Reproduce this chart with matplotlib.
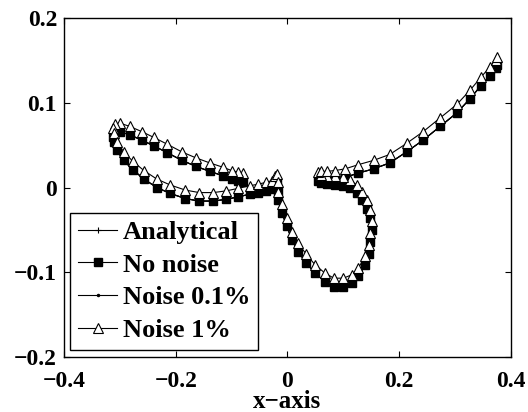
import matplotlib
matplotlib.use("Agg")
import matplotlib.pyplot as plt

# trayectoria: rama superior izquierda -> lazo izq. -> lazo der. -> rama derecha
x_exacta = [-0.080, -0.088, -0.100, -0.116, -0.139, -0.164, -0.189, -0.215, -0.239, -0.261, -0.282, -0.300, -0.309,
            -0.312, -0.311, -0.306, -0.293, -0.277, -0.257, -0.234, -0.210, -0.183, -0.158, -0.133, -0.110, -0.088,
            -0.068, -0.052, -0.039, -0.028, -0.022, -0.019,
            -0.017, -0.017, -0.010, -0.001, 0.008, 0.019, 0.034, 0.049, 0.067, 0.083, 0.100, 0.115, 0.127, 0.139,
            0.145, 0.148, 0.151, 0.148, 0.142, 0.133, 0.124, 0.112, 0.100, 0.085, 0.071, 0.060, 0.055,
            0.060, 0.070, 0.085, 0.103, 0.127, 0.154, 0.183, 0.213, 0.243, 0.273, 0.303, 0.327, 0.346, 0.362,
            0.373, 0.375]
y_exacta = [0.007, 0.008, 0.010, 0.014, 0.019, 0.025, 0.032, 0.041, 0.049, 0.056, 0.062, 0.066, 0.065,
            0.060, 0.054, 0.044, 0.032, 0.021, 0.010, 0.000, -0.007, -0.013, -0.016, -0.016, -0.014, -0.011,
            -0.008, -0.006, -0.004, -0.002, 0.003, 0.006,
            -0.004, -0.015, -0.030, -0.046, -0.062, -0.076, -0.089, -0.101, -0.111, -0.117, -0.117, -0.113, -0.105,
            -0.091, -0.078, -0.064, -0.050, -0.036, -0.025, -0.015, -0.007, -0.001, 0.002, 0.003, 0.004, 0.005, 0.008,
            0.009, 0.009, 0.010, 0.012, 0.017, 0.022, 0.029, 0.042, 0.056, 0.072, 0.088, 0.105, 0.120, 0.132,
            0.141, 0.144]

# sin ruido y ruido 0.1% caen encima de la solucion analitica
x_sin_ruido = x_exacta
y_sin_ruido = y_exacta
x_ruido01 = x_exacta
y_ruido01 = y_exacta

# ruido 1%
x_ruido1 = x_exacta
y_ruido1 = [0.017, 0.018, 0.020, 0.024, 0.029, 0.035, 0.042, 0.051, 0.059, 0.066, 0.072, 0.076, 0.075,
            0.070, 0.064, 0.054, 0.042, 0.031, 0.020, 0.010, 0.003, -0.003, -0.006, -0.006, -0.004, -0.001,
            0.002, 0.004, 0.006, 0.008, 0.013, 0.016,
            0.006, -0.005, -0.020, -0.036, -0.052, -0.066, -0.079, -0.091, -0.101, -0.107, -0.107, -0.103, -0.095,
            -0.081, -0.068, -0.054, -0.040, -0.026, -0.015, -0.005, 0.003, 0.009, 0.012, 0.013, 0.014, 0.015, 0.018,
            0.019, 0.019, 0.020, 0.022, 0.027, 0.032, 0.039, 0.052, 0.066, 0.082, 0.098, 0.115, 0.130, 0.142,
            0.151, 0.154]

etiquetas = ["Analytical", "No noise", "Noise 0.1%", "Noise 1%"]
xticks = [-0.4, -0.2, 0, 0.2, 0.4]
yticks = [-0.2, -0.1, 0, 0.1, 0.2]

plt.rcParams["font.family"] = ["Liberation Serif", "DejaVu Serif"]
plt.rcParams["font.weight"] = "bold"

fig = plt.figure(figsize=(5.28, 4.12), dpi=100)
ax = fig.add_axes([0.1212, 0.1335, 0.8466, 0.8228])

ax.plot(x_exacta, y_exacta, color="black", linewidth=0.8, marker="+", markersize=5, markeredgewidth=0.8,
        label=etiquetas[0])
ax.plot(x_sin_ruido, y_sin_ruido, color="black", linewidth=0.8, marker="s", markersize=5.5,
        markerfacecolor="black", label=etiquetas[1])
ax.plot(x_ruido01, y_ruido01, color="black", linewidth=0.8, marker=".", markersize=3, label=etiquetas[2])
ax.plot(x_ruido1, y_ruido1, color="black", linewidth=0.8, marker="^", markersize=7.5,
        markerfacecolor="white", markeredgewidth=0.8, label=etiquetas[3])

ax.set_xlim(-0.4, 0.4)
ax.set_ylim(-0.2, 0.2)
ax.set_xticks(xticks)
ax.set_yticks(yticks)
ax.set_xticklabels(["\u22120.4", "\u22120.2", "0", "0.2", "0.4"])
ax.set_yticklabels(["\u22120.2", "\u22120.1", "0", "0.1", "0.2"])
ax.tick_params(direction="in", length=4, width=0.8, top=True, right=True, labelsize=17)
ax.tick_params(axis="x", pad=10)
ax.tick_params(axis="y", pad=5)
for s in ax.spines.values():
    s.set_linewidth(1.0)

ax.set_xlabel("x\u2212axis", fontsize=18, fontweight="bold", labelpad=-1)

leg = ax.legend(loc="lower left", bbox_to_anchor=(0.0134, 0.0206), borderaxespad=0, fancybox=False,
                framealpha=1, edgecolor="black", prop={"size": 19, "weight": "bold"},
                handlelength=1.5, handletextpad=0.2, labelspacing=0.35, borderpad=0.3)
leg.get_frame().set_linewidth(1.0)

fig.savefig("out.png", dpi=100)
